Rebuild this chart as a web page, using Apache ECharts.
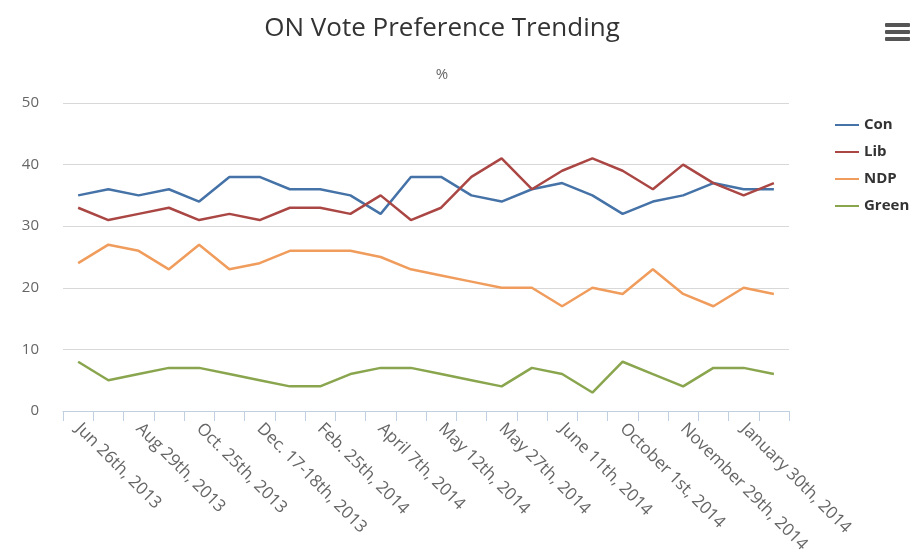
<!DOCTYPE html>
<html><head><meta charset="utf-8">
<script src="https://cdn.jsdelivr.net/npm/echarts@6/dist/echarts.min.js"></script>
<style>html,body{margin:0;padding:0;background:#fff}#c{width:917px;height:557px}</style>
</head><body><div id="c"></div>
<script>
var categories = ["Jun 26th, 2013","","Aug 29th, 2013","","Oct. 25th, 2013","","Dec. 17-18th, 2013","","Feb. 25th, 2014","","April 7th, 2014","","May 12th, 2014","","May 27th, 2014","","June 11th, 2014","","October 1st, 2014","","November 29th, 2014","","January 30th, 2014",""];
var con   = [35,36,35,36,34,38,38,36,36,35,32,38,38,35,34,36,37,35,32,34,35,37,36,36];
var lib   = [33,31,32,33,31,32,31,33,33,32,35,31,33,38,41,36,39,41,39,36,40,37,35,37];
var ndp   = [24,27,26,23,27,23,24,26,26,26,25,23,22,21,20,20,17,20,19,23,19,17,20,19];
var green = [8,5,6,7,7,6,5,4,4,6,7,7,6,5,4,7,6,3,8,6,4,7,7,6];
var yTicks = [0,10,20,30,40,50];
var seriesNames = ["Con","Lib","NDP","Green"];
var colors = ["#4572A7","#AA4643","#F09C5C","#89A54E"];

var font = "'Open Sans', sans-serif";
var chart = echarts.init(document.getElementById('c'), null, {renderer:'canvas'});
var all = [con, lib, ndp, green];
chart.setOption({
  animation:false,
  color: colors,
  title: [
    {text:"ON Vote Preference Trending", left:437, top:11, textAlign:'center',
     textStyle:{fontFamily:font, fontSize:26, fontWeight:'normal', color:'#333'}},
    {text:"%", left:437, top:62, textAlign:'center',
     textStyle:{fontFamily:font, fontSize:15, fontWeight:'normal', color:'#666'}}
  ],
  legend: {
    orient:'vertical', left:830, top:110, itemGap:7, itemWidth:24, itemHeight:2,
    icon:'rect',
    textStyle:{fontFamily:font, fontSize:15, fontWeight:'bold', color:'#333', lineHeight:20},
    data: seriesNames
  },
  grid: {left:63, right:128, top:103, bottom:146, containLabel:false},
  xAxis: {
    type:'category', data:categories, boundaryGap:true,
    axisLine:{lineStyle:{color:'#C0D0E0', width:1}},
    axisTick:{show:true, length:10, interval:0, lineStyle:{color:'#C0D0E0'}},
    axisLabel:{interval:0, rotate:-45, margin:15, color:'#666', fontFamily:font, fontSize:17}
  },
  yAxis: {
    type:'value', min:yTicks[0], max:yTicks[yTicks.length-1], interval:10,
    axisLine:{show:false}, axisTick:{show:false},
    splitLine:{lineStyle:{color:'#D8D8D8', width:1}},
    axisLabel:{color:'#666', fontFamily:font, fontSize:15, margin:24}
  },
  series: seriesNames.map(function(n,i){
    return {name:n, type:'line', data:all[i], symbol:'none', showSymbol:false,
      lineStyle:{width:2.5, color:colors[i]}, itemStyle:{color:colors[i]}};
  }),
  graphic: [
    {type:'rect', shape:{x:885, y:23, width:25, height:4, r:1}, style:{fill:'#555'}},
    {type:'rect', shape:{x:885, y:30, width:25, height:4, r:1}, style:{fill:'#555'}},
    {type:'rect', shape:{x:885, y:37, width:25, height:4, r:1}, style:{fill:'#555'}}
  ]
});
</script></body></html>
